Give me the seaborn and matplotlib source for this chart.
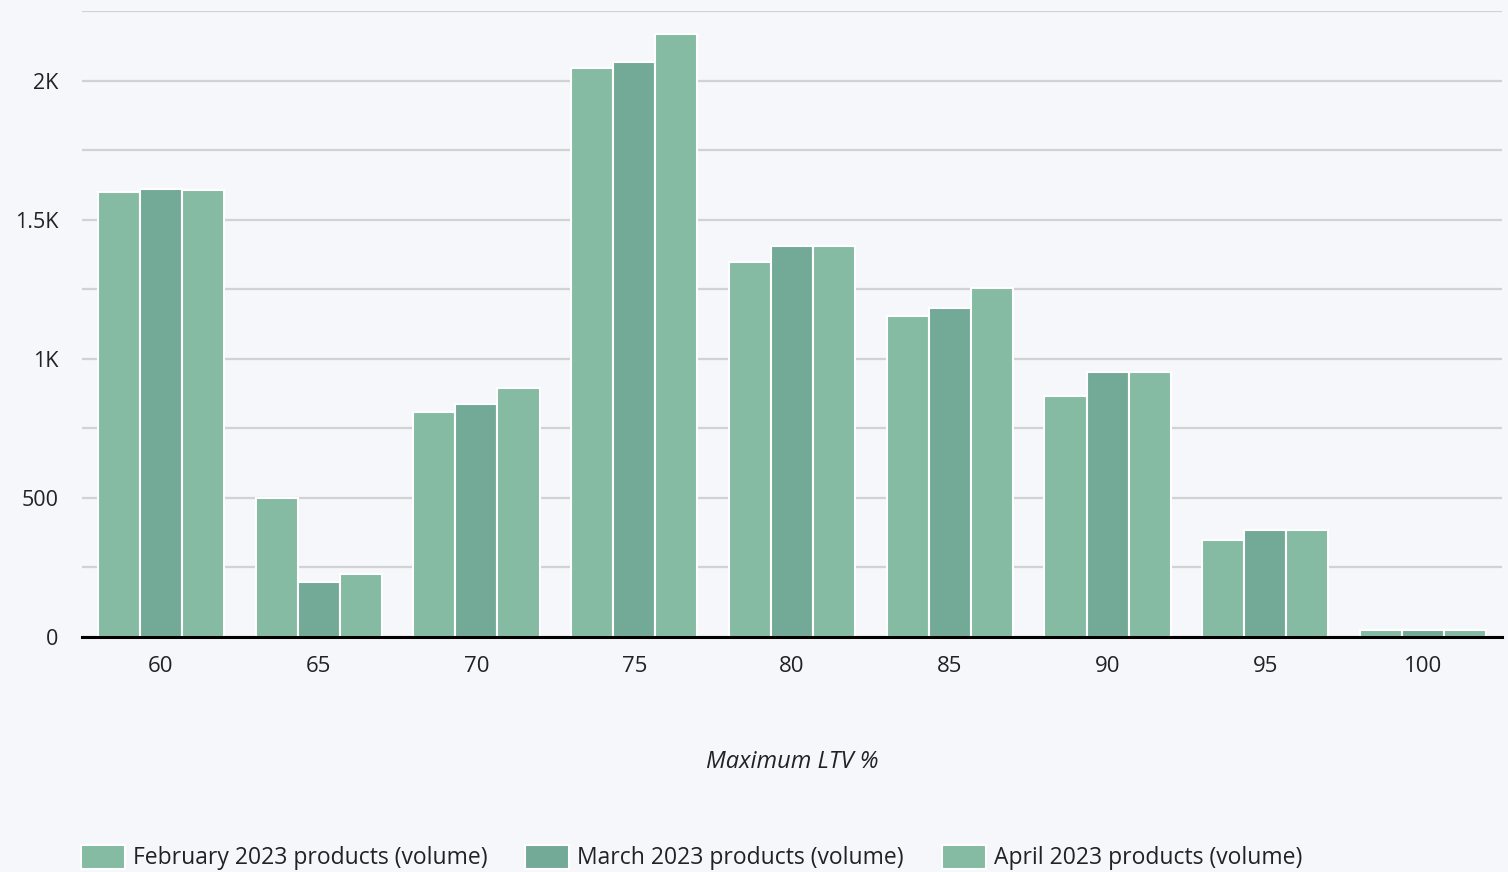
import matplotlib
matplotlib.use("Agg")
import matplotlib.pyplot as plt
import seaborn as sns
import pandas as pd
from matplotlib.ticker import FixedLocator, FuncFormatter

# Product volumes by maximum loan-to-value band
ltv_bands = ["60", "65", "70", "75", "80", "85", "90", "95", "100"]
february = [1600, 500, 808, 2045, 1347, 1153, 866, 348, 24]
march = [1612, 197, 837, 2065, 1404, 1182, 952, 384, 24]
april = [1605, 226, 894, 2166, 1404, 1254, 952, 384, 24]
series_names = [
    "February 2023 products (volume)",
    "March 2023 products (volume)",
    "April 2023 products (volume)",
]
colors = ["#85BBA2", "#73A997", "#85BBA2"]

rows = []
for name, vals in zip(series_names, [february, march, april]):
    for band, v in zip(ltv_bands, vals):
        rows.append({"ltv": band, "series": name, "volume": v})
df = pd.DataFrame(rows)

sns.set_theme(style="white")
bg = "#F5F7FB"
plt.rcParams["font.family"] = ["Open Sans", "DejaVu Sans"]

fig = plt.figure(figsize=(15.08, 8.72), dpi=100, facecolor=bg)
ax = fig.add_axes([82 / 1508, 1 - 637 / 872, (1502 - 82) / 1508, (637 - 11) / 872])
ax.set_facecolor(bg)

sns.barplot(
    data=df, x="ltv", y="volume", hue="series", order=ltv_bands,
    hue_order=series_names, palette=colors, width=0.8, saturation=1,
    edgecolor="white", linewidth=1.5, ax=ax, legend=True, zorder=3,
)

ax.set_xlim(-0.5, len(ltv_bands) - 0.5)
ax.set_ylim(0, 2250)
ax.yaxis.set_major_locator(FixedLocator([0, 500, 1000, 1500, 2000]))
ax.yaxis.set_minor_locator(FixedLocator([250, 750, 1250, 1750, 2250]))


def kfmt(v, _):
    if v >= 1000:
        return f"{v / 1000:g}K"
    return f"{v:g}"


ax.yaxis.set_major_formatter(FuncFormatter(kfmt))
ax.grid(True, axis="y", which="both", color="#D2D2D2", linewidth=1.6, zorder=0)
ax.set_axisbelow(True)
for s in ["left", "right", "top"]:
    ax.spines[s].set_visible(False)
ax.spines["bottom"].set_color("black")
ax.spines["bottom"].set_linewidth(2.2)
ax.spines["bottom"].set_zorder(5)

ax.tick_params(axis="y", which="both", length=0, pad=17, labelsize=15.5, labelcolor="#222222")
ax.tick_params(axis="x", length=0, pad=14, labelsize=16, labelcolor="#222222")
ax.set_ylabel("")
ax.set_xlabel("Maximum LTV %", fontsize=17, fontstyle="italic", color="#222222", labelpad=52)

handles, labels = ax.get_legend_handles_labels()
ax.get_legend().remove()
fig.legend(
    handles, labels, loc="lower left", bbox_to_anchor=(60 / 1508, -19 / 872),
    ncol=3, frameon=False, fontsize=16.5, handlelength=1.92, handleheight=1.25,
    handletextpad=0.35, columnspacing=1.66, labelcolor="#222222",
)

fig.savefig("out.png", dpi=100, facecolor=bg)
